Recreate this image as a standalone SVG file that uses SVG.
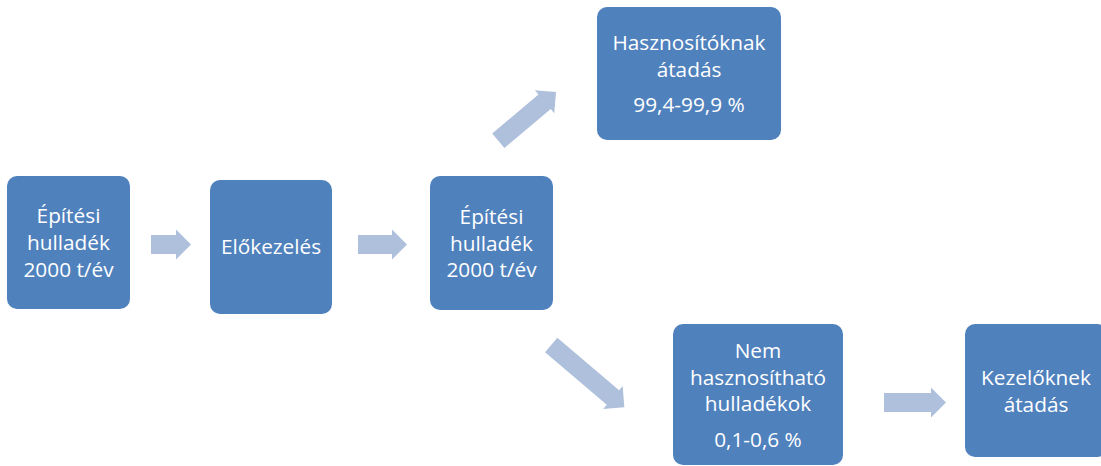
<svg xmlns="http://www.w3.org/2000/svg" width="1101" height="466" viewBox="0 0 1101 466">
<style>
.box{fill:#4F81BD;}
.arr{fill:#AFC0DC;}
text{font-family:"Open Sans","Noto Sans","Liberation Sans",sans-serif;font-size:20.8px;fill:#FFFFFF;text-anchor:middle;}
</style>
<rect width="1101" height="466" fill="#FFFFFF"/>
<g id="connectors">
<path class="arr" d="M0,-9.5 H25 V-15 L40,0 L25,15 V9.5 H0 Z" transform="translate(151,244.5)"/>
<path class="arr" d="M0,-9.5 H34 V-15 L49,0 L34,15 V9.5 H0 Z" transform="translate(358,244.5)"/>
<path class="arr" d="M0,-9.5 H60.6 V-15 L75.6,0 L60.6,15 V9.5 H0 Z" transform="translate(498.3,140.8) rotate(-40.2)"/>
<path class="arr" d="M0,-9.5 H81 V-15 L96,0 L81,15 V9.5 H0 Z" transform="translate(551.2,345) rotate(40.35)"/>
<path class="arr" d="M0,-9.5 H47 V-15 L62,0 L47,15 V9.5 H0 Z" transform="translate(884,402.5)"/>
</g>
<g id="n1">
<rect class="box" x="7" y="176" width="123" height="133" rx="10"/>
<text x="68.5" y="223.3">Építési</text>
<text x="68.5" y="250">hulladék</text>
<text x="68.5" y="276.5">2000 t/év</text>
</g>
<g id="n2">
<rect class="box" x="210" y="180" width="122" height="134" rx="10"/>
<text x="271" y="254">Előkezelés</text>
</g>
<g id="n3">
<rect class="box" x="430" y="176" width="123" height="134" rx="10"/>
<text x="491.5" y="224">Építési</text>
<text x="491.5" y="250.5">hulladék</text>
<text x="491.5" y="277">2000 t/év</text>
</g>
<g id="n4">
<rect class="box" x="597" y="7" width="184" height="133" rx="10"/>
<text x="689" y="50">Hasznosítóknak</text>
<text x="689" y="76.5">átadás</text>
<text x="689" y="112">99,4-99,9 %</text>
</g>
<g id="n5">
<rect class="box" x="673" y="324" width="170" height="141" rx="10"/>
<text x="758" y="358">Nem</text>
<text x="758" y="385">hasznosítható</text>
<text x="758" y="410.5">hulladékok</text>
<text x="758" y="447">0,1-0,6 %</text>
</g>
<g id="n6">
<rect class="box" x="965" y="324" width="142" height="133" rx="10"/>
<text x="1036" y="385">Kezelőknek</text>
<text x="1036" y="412">átadás</text>
</g>
</svg>
